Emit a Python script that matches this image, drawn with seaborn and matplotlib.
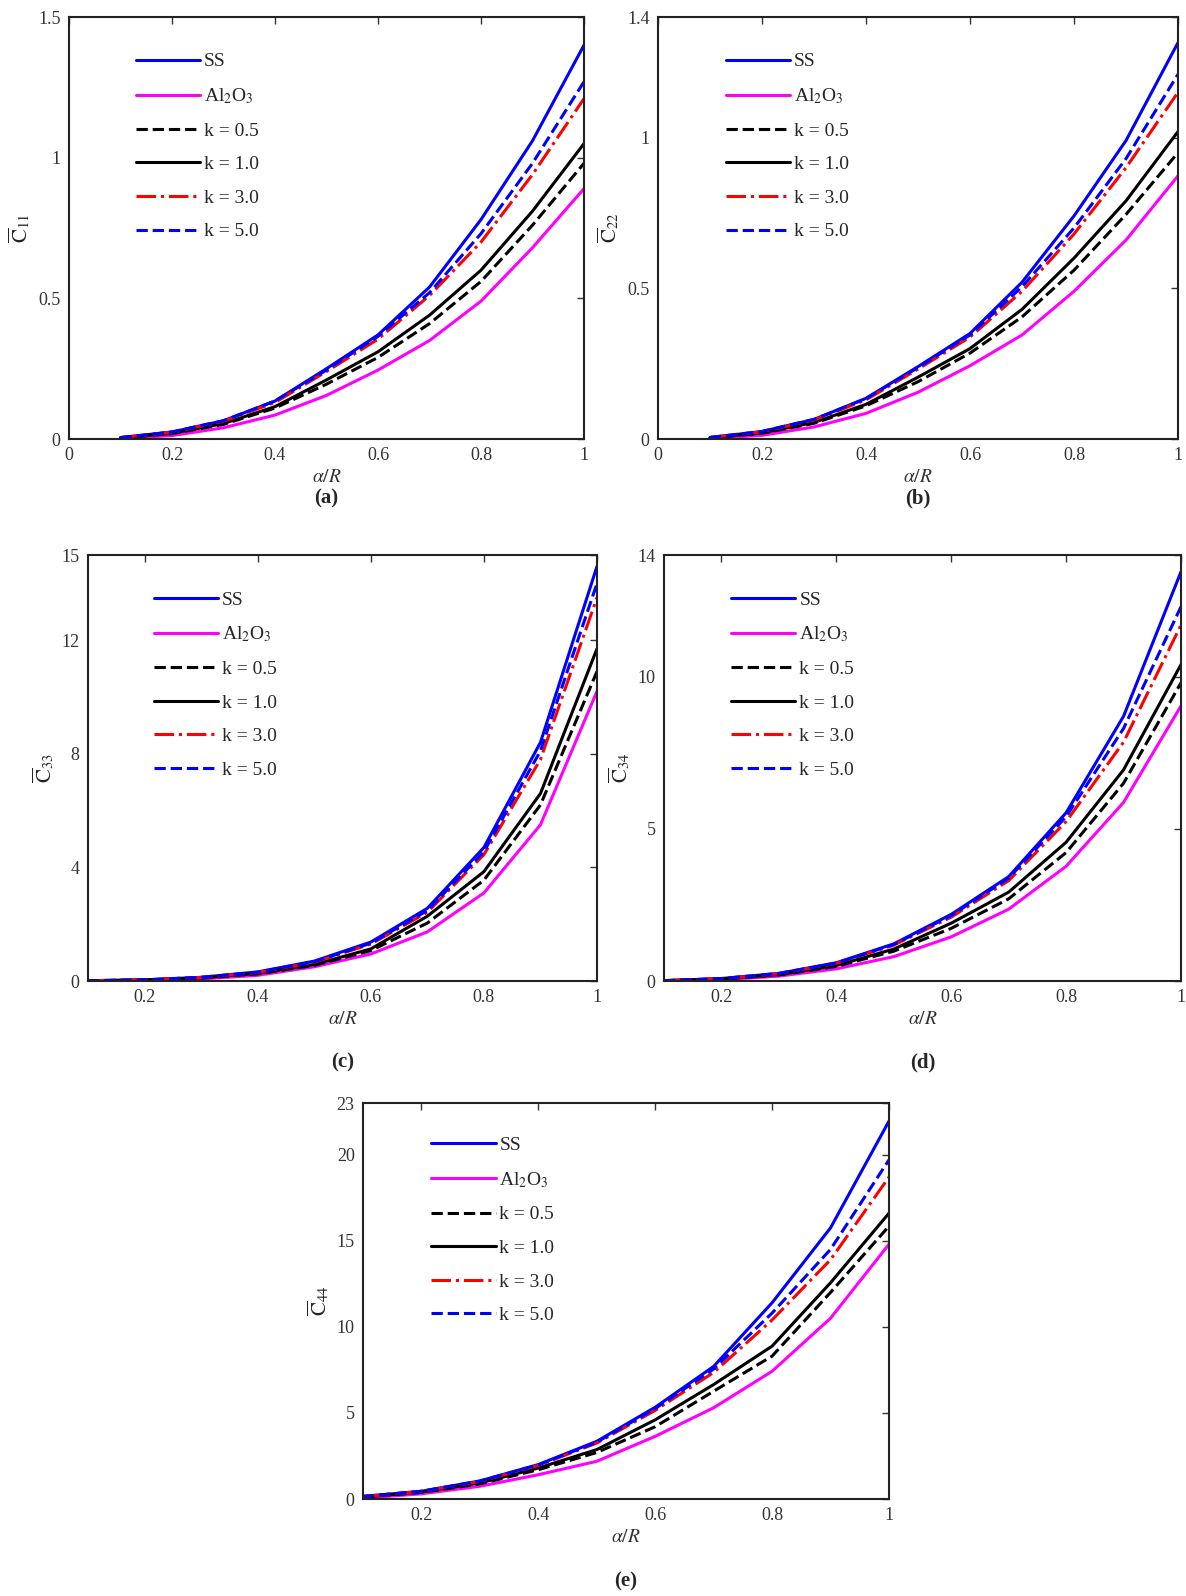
import numpy as np
import pandas as pd
import matplotlib
matplotlib.use('Agg')
import matplotlib.pyplot as plt
import seaborn as sns

sns.set_style('white')
plt.rcParams['font.family'] = ['Liberation Serif', 'DejaVu Serif']
plt.rcParams['mathtext.fontset'] = 'stix'

x = [0.1, 0.2, 0.3, 0.4, 0.5, 0.6, 0.7, 0.8, 0.9, 1.0]

# C11
c11_ss = [0.005, 0.025, 0.065, 0.135, 0.25, 0.37, 0.54, 0.78, 1.06, 1.40]
c11_k5 = [0.005, 0.025, 0.065, 0.135, 0.245, 0.365, 0.52, 0.73, 0.98, 1.27]
c11_k3 = [0.005, 0.024, 0.063, 0.13, 0.24, 0.355, 0.51, 0.70, 0.94, 1.21]
c11_k1 = [0.004, 0.02, 0.055, 0.115, 0.21, 0.31, 0.44, 0.60, 0.81, 1.05]
c11_k05 = [0.004, 0.019, 0.052, 0.11, 0.195, 0.29, 0.41, 0.56, 0.76, 0.98]
c11_al = [0.002, 0.012, 0.04, 0.085, 0.155, 0.245, 0.35, 0.49, 0.68, 0.89]

# C22
c22_ss = [0.005, 0.025, 0.065, 0.135, 0.24, 0.35, 0.52, 0.74, 0.99, 1.315]
c22_k5 = [0.005, 0.025, 0.065, 0.134, 0.237, 0.345, 0.505, 0.70, 0.93, 1.21]
c22_k3 = [0.005, 0.024, 0.063, 0.13, 0.232, 0.338, 0.49, 0.68, 0.90, 1.15]
c22_k1 = [0.004, 0.02, 0.055, 0.115, 0.205, 0.30, 0.43, 0.60, 0.79, 1.02]
c22_k05 = [0.004, 0.019, 0.052, 0.11, 0.19, 0.285, 0.405, 0.56, 0.745, 0.95]
c22_al = [0.002, 0.012, 0.04, 0.085, 0.155, 0.243, 0.345, 0.49, 0.66, 0.873]

# C33
c33_ss = [0.01, 0.04, 0.13, 0.32, 0.70, 1.37, 2.56, 4.7, 8.4, 14.6]
c33_k5 = [0.01, 0.04, 0.13, 0.31, 0.68, 1.33, 2.48, 4.55, 8.1, 14.0]
c33_k3 = [0.01, 0.04, 0.125, 0.30, 0.66, 1.30, 2.42, 4.45, 7.8, 13.5]
c33_k1 = [0.01, 0.035, 0.11, 0.27, 0.58, 1.13, 2.28, 3.85, 6.6, 11.7]
c33_k05 = [0.01, 0.03, 0.10, 0.25, 0.55, 1.07, 2.04, 3.55, 6.2, 10.9]
c33_al = [0.005, 0.02, 0.07, 0.2, 0.50, 0.95, 1.73, 3.1, 5.5, 10.2]

# C34
c34_ss = [0.01, 0.08, 0.25, 0.6, 1.22, 2.19, 3.43, 5.53, 8.7, 13.45]
c34_k5 = [0.01, 0.08, 0.25, 0.59, 1.2, 2.15, 3.38, 5.4, 8.3, 12.3]
c34_k3 = [0.01, 0.08, 0.24, 0.58, 1.18, 2.1, 3.3, 5.24, 7.85, 11.7]
c34_k1 = [0.01, 0.07, 0.21, 0.51, 1.05, 1.9, 2.92, 4.56, 6.94, 10.4]
c34_k05 = [0.01, 0.06, 0.2, 0.48, 0.98, 1.73, 2.7, 4.22, 6.5, 9.8]
c34_al = [0.0, 0.04, 0.16, 0.4, 0.8, 1.45, 2.36, 3.77, 5.87, 9.04]

# C44
c44_ss = [0.15, 0.45, 1.05, 2.0, 3.35, 5.33, 7.7, 11.4, 15.75, 21.95]
c44_k5 = [0.15, 0.45, 1.04, 1.98, 3.3, 5.25, 7.55, 10.8, 14.5, 19.7]
c44_k3 = [0.15, 0.44, 1.02, 1.95, 3.25, 5.15, 7.35, 10.4, 13.9, 18.7]
c44_k1 = [0.12, 0.4, 0.93, 1.8, 2.87, 4.6, 6.65, 8.88, 12.56, 16.6]
c44_k05 = [0.11, 0.38, 0.88, 1.7, 2.7, 4.2, 6.26, 8.3, 12.0, 15.85]
c44_al = [0.05, 0.3, 0.74, 1.41, 2.19, 3.64, 5.3, 7.42, 10.5, 14.8]

labels = ['SS', 'Al$_2$O$_3$', 'k = 0.5', 'k = 1.0', 'k = 3.0', 'k = 5.0']
colors = ['#0000ff', '#ff00ff', 'black', 'black', '#ff0000', '#0000ff']
styles = ['-', '-', '--', '-', '-.', '--']

panels = [
    ([c11_ss, c11_al, c11_k05, c11_k1, c11_k3, c11_k5], '11', (0, 1), [0, 0.5, 1, 1.5], (0, 1.5), ['0', '0.5', '1', '1.5'], '(a)'),
    ([c22_ss, c22_al, c22_k05, c22_k1, c22_k3, c22_k5], '22', (0, 1), [0, 0.5, 1, 1.4], (0, 1.4), ['0', '0.5', '1', '1.4'], '(b)'),
    ([c33_ss, c33_al, c33_k05, c33_k1, c33_k3, c33_k5], '33', (0.1, 1), [0, 4, 8, 12, 15], (0, 15), ['0', '4', '8', '12', '15'], '(c)'),
    ([c34_ss, c34_al, c34_k05, c34_k1, c34_k3, c34_k5], '34', (0.1, 1), [0, 5, 10, 14], (0, 14), ['0', '5', '10', '14'], '(d)'),
    ([c44_ss, c44_al, c44_k05, c44_k1, c44_k3, c44_k5], '44', (0.1, 1), [0, 5, 10, 15, 20, 23], (0, 23), ['0', '5', '10', '15', '20', '23'], '(e)'),
]

W, H = 1186, 1596
# axes boxes in pixels: left, top, right, bottom
boxes = [(69, 17, 584, 439), (658, 17, 1178, 439),
         (88, 555, 597, 981), (664, 555, 1181, 981),
         (363, 1103, 889, 1499)]
caption_y = [498, 498, 1062, 1062, 1581]

fig = plt.figure(figsize=(W / 100, H / 100), dpi=100)

for (series, sub, xl, yt, yl, ytl, cap), (l, t, r, b), cy in zip(panels, boxes, caption_y):
    ax = fig.add_axes([l / W, 1 - b / H, (r - l) / W, (b - t) / H])
    for vals, lab, col, ls in zip(series, labels, colors, styles):
        sns.lineplot(x=x, y=vals, ax=ax, color=col, linestyle=ls, linewidth=2.2, label=lab)
    ax.set_xlim(*xl)
    ax.set_ylim(*yl)
    if xl[0] == 0:
        ax.set_xticks([0, 0.2, 0.4, 0.6, 0.8, 1])
        ax.set_xticklabels(['0', '0.2', '0.4', '0.6', '0.8', '1'])
    else:
        ax.set_xticks([0.2, 0.4, 0.6, 0.8, 1])
        ax.set_xticklabels(['0.2', '0.4', '0.6', '0.8', '1'])
    ax.set_yticks(yt)
    ax.set_yticklabels(ytl)
    ax.tick_params(direction='in', top=True, right=True, length=5, width=1,
                   labelsize=13, colors='#333333', pad=6)
    for s in ax.spines.values():
        s.set_linewidth(1.5)
        s.set_color('#222222')
    ax.set_xlabel(r'$\alpha/R$', fontsize=14, color='#333333', labelpad=3)
    ax.set_ylabel(r'$\overline{\mathrm{C}}_{' + sub + '}$', fontsize=15, color='#222222', labelpad=4)
    ax.legend(loc='upper left', bbox_to_anchor=(0.13, 0.915), frameon=False,
              fontsize=14, handlelength=3.3, handletextpad=0.2,
              labelspacing=0.82, borderaxespad=0, borderpad=0)
    fig.text(((l + r) / 2) / W, 1 - cy / H, cap, ha='center', va='center',
             fontsize=15, fontweight='bold', family='Liberation Serif')

fig.savefig('out.png', dpi=100, facecolor='white')
